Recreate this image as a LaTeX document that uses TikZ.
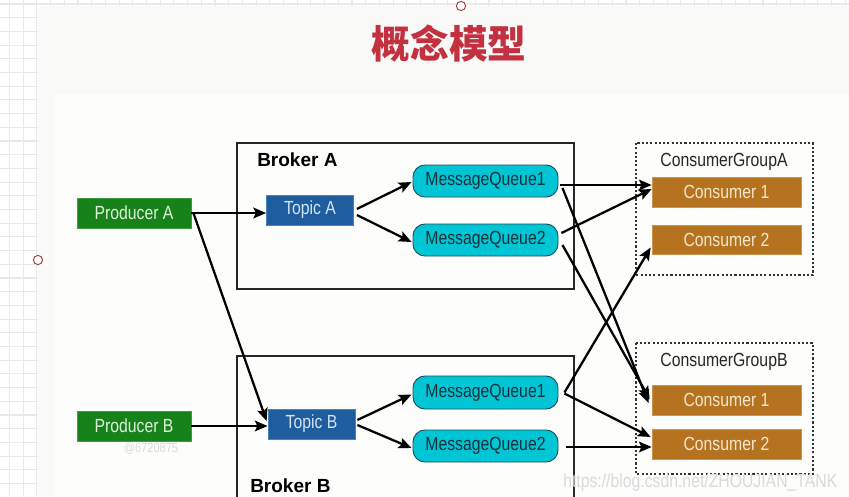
\documentclass[tikz,border=0pt]{standalone}
\usepackage{fontspec}
\setmainfont{Liberation Sans}[FakeStretch=0.83]
\newfontfamily\brkfont{Liberation Sans}
\newfontfamily\cjkfont{Noto Sans CJK SC}
\usetikzlibrary{arrows.meta,calc}
\definecolor{gridc}{HTML}{E9E9E9}
\definecolor{slidebg}{HTML}{F9F9F7}
\definecolor{titlered}{HTML}{C3303F}
\definecolor{prodfill}{HTML}{17821A}
\definecolor{proddraw}{HTML}{3E9E3E}
\definecolor{prodtext}{HTML}{DDF2DA}
\definecolor{topfill}{HTML}{1E5D9E}
\definecolor{topdraw}{HTML}{4C82BA}
\definecolor{toptext}{HTML}{D3E4F4}
\definecolor{mqfill}{HTML}{00C5D5}
\definecolor{mqdraw}{HTML}{1D4E5C}
\definecolor{mqtext}{HTML}{14303A}
\definecolor{consfill}{HTML}{B5731F}
\definecolor{consdraw}{HTML}{CF9350}
\definecolor{constext}{HTML}{F5E6D0}
\definecolor{handle}{HTML}{A63A3A}
\definecolor{wmark}{HTML}{DADADA}
\begin{document}
\begin{tikzpicture}[x=0.75pt,y=-0.75pt,
  sz/.style 2 args={minimum width=#1*0.75pt, minimum height=#2*0.75pt, inner sep=0pt},
  txt/.style={font=\fontsize{14.25pt}{16pt}\selectfont},
  producer/.style={txt, fill=prodfill, draw=proddraw, line width=0.6pt, text=prodtext, sz={114}{30}},
  topic/.style={txt, fill=topfill, draw=topdraw, line width=0.6pt, text=toptext, sz={87}{30}},
  queue/.style={txt, fill=mqfill, draw=mqdraw, line width=0.7pt, text=mqtext, rounded corners=9pt, sz={145}{32}},
  consumer/.style={txt, fill=consfill, draw=consdraw, line width=0.5pt, text=constext, sz={149}{30}},
  broker/.style={draw=black!85, line width=0.9pt},
  group/.style={draw=black!80, line width=1pt, dash pattern=on 1.6pt off 1.6pt},
  conn/.style={draw=black, line width=1.7pt, -{Stealth[length=9.5pt,width=8pt,inset=1.8pt]}},
  lbl/.style={txt, text=black!85, inner sep=0pt, anchor=base}
]
\useasboundingbox (0,0) rectangle (849,496);
\clip (0,0) rectangle (849,496);
% background grid and slide
\fill[white] (0,0) rectangle (849,496);
\foreach \gx in {0,...,61} {\draw[gridc, line width=0.8pt] ({9.5+13.7*\gx},0) -- ({9.5+13.7*\gx},496);}
\foreach \gy in {0,...,36} {\draw[gridc, line width=0.8pt] (0,{4+13.7*\gy}) -- (849,{4+13.7*\gy});}
\fill[slidebg] (38,6) rectangle (849,496);
\fill[white!60!slidebg] (55,95) rectangle (849,496);
% selection handles
\draw[handle, fill=white, line width=0.7pt] (461,6) circle (4.6);
\draw[handle, fill=white, line width=0.7pt] (38,260) circle (4.6);
% title
\node (title) at (449,44) {\cjkfont\bfseries\fontsize{29pt}{32pt}\selectfont\color{titlered}概念模型};
% brokers
\draw[broker] (237,143) rectangle (574,289);
\node[anchor=base west, inner sep=0pt] (brokerA) at (257,166) {\brkfont\bfseries\fontsize{14.25pt}{16pt}\selectfont Broker A};
\draw[broker] (237,520) -- (237,356) -- (574,356) -- (574,520);
\node[anchor=base west, inner sep=0pt] (brokerB) at (250,492) {\brkfont\bfseries\fontsize{14.25pt}{16pt}\selectfont Broker B};
% consumer groups
\draw[group] (636,143) rectangle (813,275);
\node[lbl] (grpA) at (724,166) {ConsumerGroupA};
\draw[group] (636,343) rectangle (813,474);
\node[lbl] (grpB) at (724,366) {ConsumerGroupB};
% watermarks
\node[txt, text=wmark, inner sep=0pt] (wm1) at (151,449) {\fontsize{10pt}{11pt}\selectfont @6720875};
\node[txt, text=wmark, inner sep=0pt, anchor=base west] (wm2) at (563,487) {https://blog.csdn.net/ZHOUJIAN\_TANK};
% nodes
\node[producer] (pa) at (134,213) {Producer A};
\node[producer] (pb) at (134,426) {Producer B};
\node[topic] (ta) at (310,210) {Topic A};
\node[topic, sz={87}{30}] (tb) at (311.5,424) {Topic B};
\node[queue] (mq1a) at (485.5,181) {MessageQueue1};
\node[queue] (mq2a) at (485.5,240) {MessageQueue2};
\node[queue, sz={145}{33}] (mq1b) at (485.5,392.5) {MessageQueue1};
\node[queue] (mq2b) at (485.5,446) {MessageQueue2};
\node[consumer] (c1a) at (726.5,192) {Consumer 1};
\node[consumer, sz={149}{29}] (c2a) at (726.5,239.5) {Consumer 2};
\node[consumer] (c1b) at (726.5,400) {Consumer 1};
\node[consumer] (c2b) at (726.5,444) {Consumer 2};
% connectors
\draw[conn] ($(pa.east)+(0,0)$) -- ($(ta.west)+(0,3)$);
\draw[conn] ($(pa.east)+(2,0)$) -- ($(tb.west)+(-1,-3)$);
\draw[conn] (pb.east) -- ($(tb.west)+(0,2)$);
\draw[conn] ($(ta.east)+(3,-1)$) -- ($(mq1a.west)+(-1,1)$);
\draw[conn] ($(ta.east)+(3,5)$) -- ($(mq2a.west)+(-1,2)$);
\draw[conn] ($(tb.east)+(2,-4)$) -- ($(mq1b.west)+(-1,2)$);
\draw[conn] ($(tb.east)+(2,1)$) -- ($(mq2b.west)+(-1,2)$);
\draw[conn] ($(mq1a.east)+(2,4)$) -- ($(c1a.west)+(0,-7)$);
\draw[conn] ($(mq2a.east)+(3,-7)$) -- ($(c1a.west)+(0,-3)$);
\draw[conn] ($(mq1a.east)+(4,7)$) -- ($(c1b.west)+(-3,3)$);
\draw[conn] ($(mq2a.east)+(4,5)$) -- ($(c1b.west)+(-2,-1)$);
\draw[conn] ($(mq1b.east)+(6,0)$) -- ($(c2a.west)+(-1,8)$);
\draw[conn] ($(mq1b.east)+(6,1)$) -- ($(c2b.west)+(-1,-7)$);
\draw[conn] ($(mq2b.east)+(8,1)$) -- ($(c2b.west)+(0,3)$);
\end{tikzpicture}
\end{document}
